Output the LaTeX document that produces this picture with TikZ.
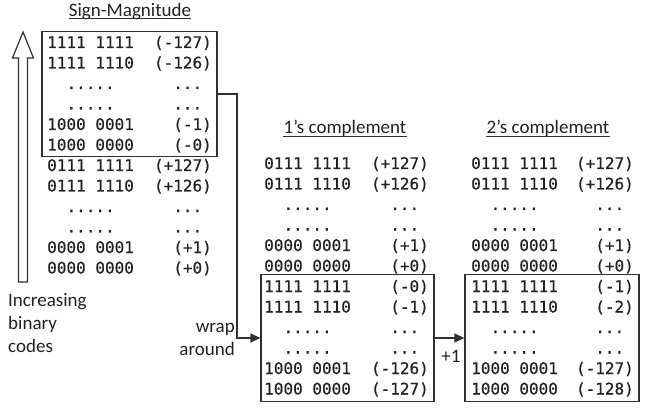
\documentclass[tikz,border=0pt]{standalone}
\usepackage{fontspec}
\setmainfont{Carlito}
\newfontfamily\codefont[FakeBold=0.6]{DejaVu Sans Mono}
\usetikzlibrary{arrows.meta}
\definecolor{ink}{HTML}{222222}
\definecolor{linec}{HTML}{303030}
\newcommand\mydb{\ \ .....}
\newcommand\mydv{...\phantom{0}}
\begin{document}
\begin{tikzpicture}[x=1pt,y=-1pt,
  code/.style={font=\codefont\fontsize{16}{16}\selectfont, inner sep=0pt, text=ink},
  lbl/.style={font=\fontsize{19}{19}\selectfont, inner sep=0pt, text=ink},
  frame/.style={draw=linec, line width=1.2pt, inner sep=0pt},
  conn/.style={draw=linec, line width=1.2pt, -{Triangle[length=10pt,width=9pt]}},
  uline/.style={draw=linec, line width=1pt}]
\useasboundingbox (0,0) rectangle (651,409);
\fill[white] (0,0) rectangle (651,409);

% titles
\node[lbl, anchor=base] (smt) at (130,16.5) {Sign-Magnitude};
\draw[uline] ([yshift=-2.2pt]smt.base west) -- ([yshift=-2.2pt]smt.base east);
\node[lbl, anchor=base] (oct) at (345,134) {1’s complement};
\draw[uline] ([yshift=-2.4pt]oct.base west) -- ([yshift=-2.4pt]oct.base east);
\node[lbl, anchor=base] (tct) at (548,134) {2’s complement};
\draw[uline] ([yshift=-2.4pt]tct.base west) -- ([yshift=-2.4pt]tct.base east);

% sign-magnitude rows
\foreach \b/\v [count=\i] in {1111 1111/(-127),1111 1110/(-126),\mydb/\mydv,\mydb/\mydv,1000 0001/(-1),1000 0000/(-0),
  0111 1111/(+127),0111 1110/(+126),\mydb/\mydv,\mydb/\mydv,0000 0001/(+1),0000 0000/(+0)}{
  \node[code, anchor=base west] (sm-b\i) at (47,{48+20.5*(\i-1)}) {\b};
  \node[code, anchor=base east] (sm-v\i) at (212,{48+20.5*(\i-1)}) {\v};
}

% 1's complement rows
\foreach \b/\v [count=\i] in {0111 1111/(+127),0111 1110/(+126),\mydb/\mydv,\mydb/\mydv,0000 0001/(+1),0000 0000/(+0),
  1111 1111/(-0),1111 1110/(-1),\mydb/\mydv,\mydb/\mydv,1000 0001/(-126),1000 0000/(-127)}{
  \node[code, anchor=base west] (oc-b\i) at (264,{169+20.5*(\i-1)}) {\b};
  \node[code, anchor=base east] (oc-v\i) at (429,{169+20.5*(\i-1)}) {\v};
}

% 2's complement rows
\foreach \b/\v [count=\i] in {0111 1111/(+127),0111 1110/(+126),\mydb/\mydv,\mydb/\mydv,0000 0001/(+1),0000 0000/(+0),
  1111 1111/(-1),1111 1110/(-2),\mydb/\mydv,\mydb/\mydv,1000 0001/(-127),1000 0000/(-128)}{
  \node[code, anchor=base west] (tc-b\i) at (471,{169+20.5*(\i-1)}) {\b};
  \node[code, anchor=base east] (tc-v\i) at (634,{169+20.5*(\i-1)}) {\v};
}

% boxes
\node[frame, minimum width=175pt, minimum height=125pt] (smbox) at (129.5,94) {};
\node[frame, minimum width=173pt, minimum height=127pt] (ocbox) at (347.5,338) {};
\node[frame, minimum width=174pt, minimum height=127pt] (tcbox) at (552,338) {};

% connectors
\coordinate (wrapc) at (237,94);
\draw[conn] (smbox.east) -- (wrapc) |- (ocbox.west);
\draw[conn] (ocbox.east) -- (tcbox.west);

% hollow arrow
\draw[draw=linec, line width=1.2pt, line join=miter]
  (18.5,282) -- (18.5,58) -- (12.5,58) -- (23,32) -- (33.5,58) -- (27.5,58) -- (27.5,282) -- cycle;

% labels
\node[lbl, anchor=base west] (inc1) at (8,306) {Increasing};
\node[lbl, anchor=base west] (inc2) at (8,329) {binary};
\node[lbl, anchor=base west] (inc3) at (8,352) {codes};
\node[lbl, anchor=base east] (wr1) at (235,332) {wrap};
\node[lbl, anchor=base east] (wr2) at (235,355) {around};
\node[lbl, anchor=base] (plus) at (451,362) {+1};
\end{tikzpicture}
\end{document}
